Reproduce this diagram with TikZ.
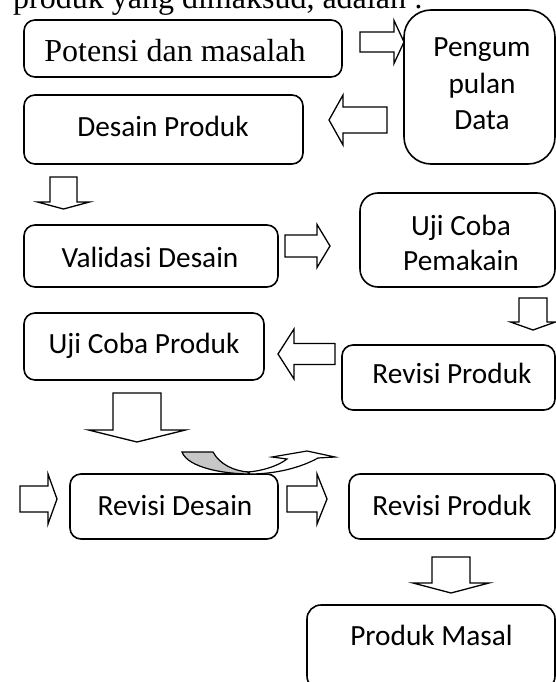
\documentclass[tikz,border=0pt]{standalone}
\usepackage{fontspec}
\setmainfont{Liberation Serif}
\newfontfamily\calib{Carlito}

% block arrow pointing left or right: tail x, head base x, tip x, centre y, half shaft, half head
\newcommand{\blkhoriz}[6]{%
  \draw[blockarr] (#1,{#4-#5}) -- (#2,{#4-#5}) -- (#2,{#4-#6}) -- (#3,#4)
    -- (#2,{#4+#6}) -- (#2,{#4+#5}) -- (#1,{#4+#5}) -- cycle;}
% block arrow pointing down: centre x, tail y, head base y, tip y, half shaft, half head
\newcommand{\blkdown}[6]{%
  \draw[blockarr] ({#1-#5},#2) -- ({#1-#5},#3) -- ({#1-#6},#3) -- (#1,#4)
    -- ({#1+#6},#3) -- ({#1+#5},#3) -- ({#1+#5},#2) -- cycle;}

\begin{document}
\begin{tikzpicture}[x=1pt,y=-1pt,
  box/.style={draw, line width=1.6pt, inner sep=0pt},
  lbl/.style={inner sep=0pt, anchor=base, font=\calib\fontsize{29.3}{36}\selectfont},
  serif/.style={inner sep=0pt, font=\fontsize{32}{38}\selectfont},
  blockarr/.style={draw, line width=1.3pt, fill=white, line join=miter},
  curvearr/.style={draw, line width=1.2pt, line join=miter}]
\useasboundingbox (0,0) rectangle (556,682);
\clip (0,0) rectangle (556,682);

% heading line of the page
\node[serif, anchor=base west] (intro) at (13,9) {produk yang dimaksud, adalah :};

% process boxes
\node[box, minimum width=318pt, minimum height=57pt, rounded corners=11pt] (potensi) at (183,48.5) {};
\node[box, minimum width=151pt, minimum height=154pt, rounded corners=27pt] (pengum) at (479.5,87) {};
\node[box, minimum width=279pt, minimum height=69pt, rounded corners=11pt] (desain) at (163.5,129.5) {};
\node[box, minimum width=254pt, minimum height=62pt, rounded corners=11pt] (validasi) at (151,256) {};
\node[box, minimum width=195pt, minimum height=94pt, rounded corners=18pt] (ujipakai) at (457.5,240) {};
\node[box, minimum width=240pt, minimum height=67pt, rounded corners=11pt] (ujiproduk) at (144,346.5) {};
\node[box, minimum width=213pt, minimum height=65pt, rounded corners=11pt] (revproduka) at (448.5,377.5) {};
\node[box, minimum width=208pt, minimum height=65pt, rounded corners=11pt] (revdesain) at (174,506.5) {};
\node[box, minimum width=206pt, minimum height=65pt, rounded corners=11pt] (revprodukb) at (452,506.5) {};
\node[box, minimum width=248pt, minimum height=85pt, rounded corners=14pt] (masal) at (431,647.5) {};

% box texts
\node[serif, anchor=base] (potensitxt) at (175,62) {Potensi dan masalah};
\node[lbl, anchor=center, align=center, font=\calib\fontsize{29.3}{36.5}\selectfont] (pengumtxt) at (482,84) {Pengum\\pulan\\Data};
\node[lbl] (desaintxt) at (163,136) {Desain Produk};
\node[lbl] (validasitxt) at (150,267) {Validasi Desain};
\node[lbl, anchor=center, align=center, font=\calib\fontsize{29.3}{35}\selectfont] (ujipakaitxt) at (461,243) {Uji Coba\\Pemakain};
\node[lbl] (ujiproduktxt) at (144,353) {Uji Coba Produk};
\node[lbl] (revprodukatxt) at (452,383) {Revisi Produk};
\node[lbl] (revdesaintxt) at (175,515) {Revisi Desain};
\node[lbl] (revprodukbtxt) at (452,515) {Revisi Produk};
\node[lbl] (masaltxt) at (431.5,645) {Produk Masal};

% block arrows between the steps
\blkhoriz{360}{394}{404}{42}{10}{21.5}
\blkhoriz{387}{343}{329}{120}{13}{25}
\blkdown{63.5}{177}{202}{209}{13.5}{26}
\blkhoriz{285}{317}{330}{246}{11}{21.5}
\blkdown{533}{298}{322}{330}{14}{22.5}
\blkhoriz{335}{294}{278}{354}{10.5}{25}
\blkdown{137}{393}{430}{442}{24}{48.5}
\blkhoriz{20}{48}{57}{499}{13}{25}
\blkhoriz{287}{317}{327}{499}{13}{25}
\blkdown{451}{557}{583}{593}{19}{38}

% curved up arrow above Revisi Desain: shaded back face, then the front with its head
\draw[curvearr, fill=black!22] (182,452) -- (213,452)
  .. controls (220,465) and (235,471) .. (248,472)
  -- (250,474) .. controls (225,474) and (188,468) .. (182,452) -- cycle;
\draw[curvearr, fill=white] (248,472) .. controls (262,471) and (278,466) .. (287,459)
  -- (272,457) -- (307,451) -- (335,457) -- (318,458)
  .. controls (300,468) and (275,474) .. (250,474) -- cycle;
\end{tikzpicture}
\end{document}
